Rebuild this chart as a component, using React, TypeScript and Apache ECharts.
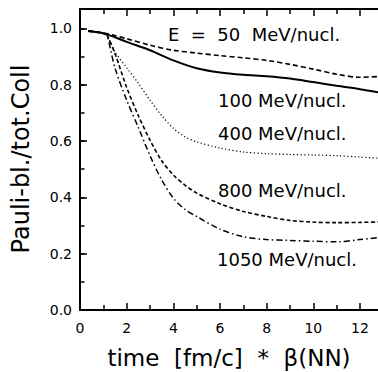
import React, { useEffect, useRef } from "react";
import * as echarts from "echarts";

// time * beta(NN) [fm/c] sample points per curve
const t50 = [0.35, 1, 1.5, 2, 3, 4, 5, 6, 7, 8, 9, 10, 11, 12, 12.85];
const v50 = [0.99, 0.984, 0.974, 0.963, 0.94, 0.922, 0.912, 0.903, 0.895, 0.886, 0.872, 0.855, 0.837, 0.826, 0.829];

const t100 = [0.35, 1, 1.5, 2, 3, 4, 5, 6, 7, 8, 9, 10, 11, 12, 12.85];
const v100 = [0.99, 0.982, 0.968, 0.952, 0.922, 0.886, 0.858, 0.843, 0.835, 0.83, 0.822, 0.809, 0.796, 0.784, 0.772];

const tHigh = [0.35, 1, 1.15, 1.5, 2, 2.5, 3, 3.5, 4, 4.5, 5, 6, 7, 8, 9, 10, 11, 12, 12.85];
const v400 = [0.99, 0.982, 0.975, 0.916, 0.86, 0.805, 0.745, 0.69, 0.645, 0.615, 0.597, 0.575, 0.561, 0.555, 0.552, 0.55, 0.548, 0.543, 0.538];
const v800 = [0.99, 0.982, 0.976, 0.91, 0.79, 0.69, 0.603, 0.53, 0.479, 0.443, 0.415, 0.377, 0.35, 0.332, 0.318, 0.312, 0.31, 0.311, 0.313];
const v1050 = [0.99, 0.982, 0.976, 0.859, 0.745, 0.648, 0.548, 0.462, 0.397, 0.357, 0.332, 0.287, 0.26, 0.25, 0.247, 0.244, 0.242, 0.25, 0.258];

const curveLabels = ["E  =  50  MeV/nucl.", "100 MeV/nucl.", "400 MeV/nucl.", "800 MeV/nucl.", "1050 MeV/nucl."];
const xTitle = "time  [fm/c]  *  β(NN)";
const yTitle = "Pauli-bl./tot.Coll";

const pairs = (t: number[], v: number[]) => t.map((x, i) => [x, v[i]]);

const FONT = "DejaVu Sans";
const BLACK = "#000";
const CHART_W = 410;

export default function App() {
  const ref = useRef<HTMLDivElement>(null);
  useEffect(() => {
    if (!ref.current) return;
    const chart = echarts.init(ref.current, undefined, { renderer: "svg" });
    const yMax = 1.0685;
    const tickStyle = { color: BLACK, width: 1.5 };
    const baseX = {
      type: "value",
      min: 0,
      max: 14,
      interval: 2,
      splitLine: { show: false },
      axisLine: { show: true, onZero: false, lineStyle: { color: BLACK, width: 2 } },
      axisTick: { show: true, inside: true, length: 7, lineStyle: tickStyle },
      minorTick: { show: true, splitNumber: 2, length: 5, lineStyle: tickStyle },
    };
    const mkY = (pos: string, interval: number, showLine: boolean, len: number, labels: boolean) => ({
      type: "value",
      position: pos,
      min: 0,
      max: yMax,
      interval,
      splitLine: { show: false },
      axisLine: { show: showLine, onZero: false, lineStyle: { color: BLACK, width: 2 } },
      axisTick: { show: true, inside: true, length: len, lineStyle: tickStyle },
      axisLabel: labels
        ? {
            show: true,
            margin: 8,
            fontSize: 14,
            color: BLACK,
            fontFamily: FONT,
            showMaxLabel: false,
            formatter: (v: number) => v.toFixed(1),
          }
        : { show: false },
    });
    const line = (data: number[][], type: any, width: number) => ({
      type: "line",
      data,
      xAxisIndex: 0,
      yAxisIndex: 0,
      showSymbol: false,
      smooth: 0.3,
      lineStyle: { color: BLACK, width, type },
      silent: true,
    });
    const txt = (text: string, x: number, y: number) => ({
      type: "text",
      left: x,
      top: y - 11,
      style: { text, fontSize: 18, fontFamily: FONT, fill: BLACK },
    });
    chart.setOption({
      animation: false,
      backgroundColor: "#fff",
      grid: { left: 80, top: 9, right: CHART_W - 406.7, bottom: 62, containLabel: false },
      xAxis: [
        {
          ...baseX,
          position: "bottom",
          axisLabel: {
            show: true,
            margin: 11,
            fontSize: 14,
            color: BLACK,
            fontFamily: FONT,
            showMaxLabel: false,
          },
        },
        { ...baseX, position: "top", axisLabel: { show: false } },
      ],
      yAxis: [
        mkY("left", 0.2, true, 7, true),
        mkY("left", 0.1, false, 4.5, false),
        mkY("right", 0.2, true, 7, false),
        mkY("right", 0.1, false, 4.5, false),
      ],
      series: [
        line(pairs(t50, v50), [5, 3], 1.6),
        line(pairs(t100, v100), "solid", 2),
        line(pairs(tHigh, v400), [1.2, 2.4], 1.2),
        line(pairs(tHigh, v800), [4, 2.5], 1.6),
        line(pairs(tHigh, v1050), [6, 3, 1.5, 3], 1.5),
      ],
      graphic: [
        txt(curveLabels[0], 168, 36),
        txt(curveLabels[1], 218, 102),
        txt(curveLabels[2], 218, 135),
        txt(curveLabels[3], 218, 192),
        txt(curveLabels[4], 217, 261),
        {
          type: "text",
          x: 229,
          y: 358,
          style: {
            text: xTitle,
            fontSize: 23,
            fontFamily: FONT,
            fill: BLACK,
            align: "center",
            verticalAlign: "middle",
          },
        },
        {
          type: "text",
          x: 21,
          y: 159,
          rotation: Math.PI / 2,
          style: {
            text: yTitle,
            fontSize: 24,
            fontFamily: FONT,
            fill: BLACK,
            align: "center",
            verticalAlign: "middle",
          },
        },
      ],
    });
    return () => chart.dispose();
  }, []);
  return (
    <div style={{ position: "absolute", left: 0, top: 0, width: 378, height: 372, overflow: "hidden" }}>
      <div ref={ref} style={{ width: CHART_W, height: 372 }} />
    </div>
  );
}
